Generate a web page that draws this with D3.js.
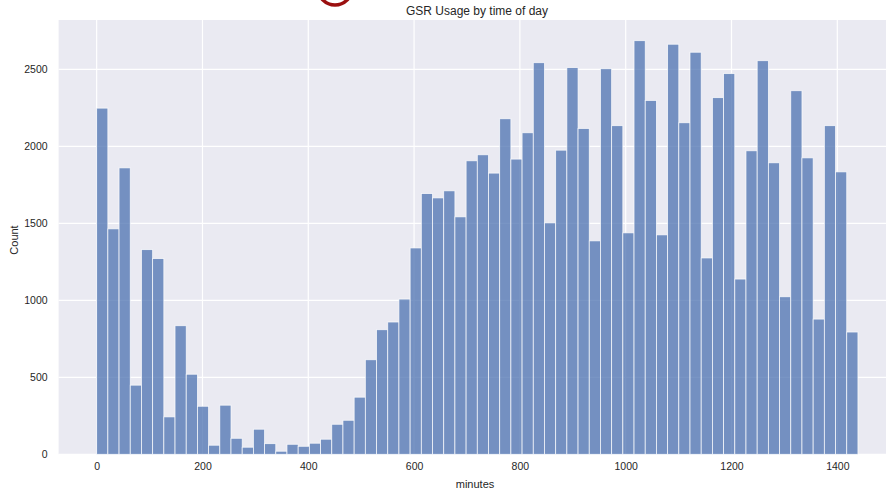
<!DOCTYPE html>
<html>
<head>
<meta charset="utf-8">
<script src="https://cdn.jsdelivr.net/npm/d3@7"></script>
<style>
  html, body { margin: 0; padding: 0; background: #ffffff; }
  svg { display: block; }
  text { font-family: "Liberation Sans", Arial, sans-serif; fill: #262626; }
</style>
</head>
<body>
<svg id="chart" width="886" height="489"></svg>
<script>
// ---- data ----
const title = "GSR Usage by time of day";
const xLabel = "minutes";
const yLabel = "Count";
const binMin = 0;
const binMax = 1439;
const counts = [
  2248, 1464, 1860, 449, 1329, 1271, 243, 835, 520, 312, 59, 319,
  104, 46, 163, 69, 20, 65, 52, 72, 98, 195, 221, 371,
  614, 809, 859, 1008, 1340, 1693, 1665, 1711, 1542, 1906, 1945,
  1826, 2179, 1917, 2088, 2543, 1503, 1975, 2511, 2116, 1386, 2504, 2134,
  1438, 2686, 2298, 1425, 2663, 2153, 2611, 1275, 2316, 2472, 1138,
  1971, 2556, 1893, 1023, 2361, 1925, 878, 2134, 1834, 794
];
const xTicks = [0, 200, 400, 600, 800, 1000, 1200, 1400];
const yTicks = [0, 500, 1000, 1500, 2000, 2500];

// ---- layout ----
const svg = d3.select("#chart");
const plot = { left: 58.6, top: 20, right: 896, bottom: 454.3 };

const binWidth = (binMax - binMin) / counts.length;
const bins = counts.map((c, i) => ({ x0: binMin + i * binWidth, x1: binMin + (i + 1) * binWidth, c }));

const margin = (binMax - binMin) * 0.05;
const x = d3.scaleLinear().domain([binMin - margin, binMax + margin]).range([plot.left, plot.right]);
const y = d3.scaleLinear().domain([0, d3.max(counts) * 1.05]).range([plot.bottom, plot.top]);

// decorative cropped red ring at top (artifact from screenshot)
svg.append("circle").attr("cx", 335).attr("cy", -12).attr("r", 17)
  .attr("fill", "none").attr("stroke", "#9b1010").attr("stroke-width", 3.5);

// background
svg.append("rect")
  .attr("x", plot.left).attr("y", plot.top)
  .attr("width", plot.right - plot.left).attr("height", plot.bottom - plot.top)
  .attr("fill", "#eaeaf2");

// grid
const grid = svg.append("g");
grid.selectAll("line.gx").data(xTicks).join("line")
  .attr("x1", d => x(d)).attr("x2", d => x(d))
  .attr("y1", plot.top).attr("y2", plot.bottom)
  .attr("stroke", "#ffffff").attr("stroke-width", 1.2);
grid.selectAll("line.gy").data(yTicks).join("line")
  .attr("x1", plot.left).attr("x2", plot.right)
  .attr("y1", d => y(d)).attr("y2", d => y(d))
  .attr("stroke", "#ffffff").attr("stroke-width", 1.2);

// bars
svg.append("g").selectAll("rect").data(bins).join("rect")
  .attr("x", d => x(d.x0))
  .attr("y", d => y(d.c))
  .attr("width", d => x(d.x1) - x(d.x0))
  .attr("height", d => y(0) - y(d.c))
  .attr("fill", "#4c72b0").attr("fill-opacity", 0.75)
  .attr("stroke", "#ffffff").attr("stroke-opacity", 0.85).attr("stroke-width", 0.8);

// axes (ticks only as labels, seaborn darkgrid style)
const xAxis = d3.axisBottom(x).tickValues(xTicks).tickSize(0).tickPadding(8).tickFormat(d3.format("d"));
const gx = svg.append("g").attr("transform", `translate(0,${plot.bottom})`).call(xAxis);
gx.select(".domain").remove();
gx.selectAll("text").attr("font-size", "10.5px").attr("fill", "#262626")
  .style("font-family", "'Liberation Sans', Arial, sans-serif");

const yAxis = d3.axisLeft(y).tickValues(yTicks).tickSize(0).tickPadding(11).tickFormat(d3.format("d"));
const gy = svg.append("g").attr("transform", `translate(${plot.left},0)`).call(yAxis);
gy.select(".domain").remove();
gy.selectAll("text").attr("font-size", "10.5px").attr("fill", "#262626")
  .style("font-family", "'Liberation Sans', Arial, sans-serif");

// labels
svg.append("text").attr("x", 477).attr("y", 14.5).attr("text-anchor", "middle")
  .attr("font-size", "12px").text(title);
svg.append("text").attr("x", 475).attr("y", 488).attr("text-anchor", "middle")
  .attr("font-size", "11px").text(xLabel);
svg.append("text").attr("transform", "translate(18.3,240) rotate(-90)")
  .attr("text-anchor", "middle").attr("font-size", "11px").text(yLabel);
</script>
</body>
</html>
